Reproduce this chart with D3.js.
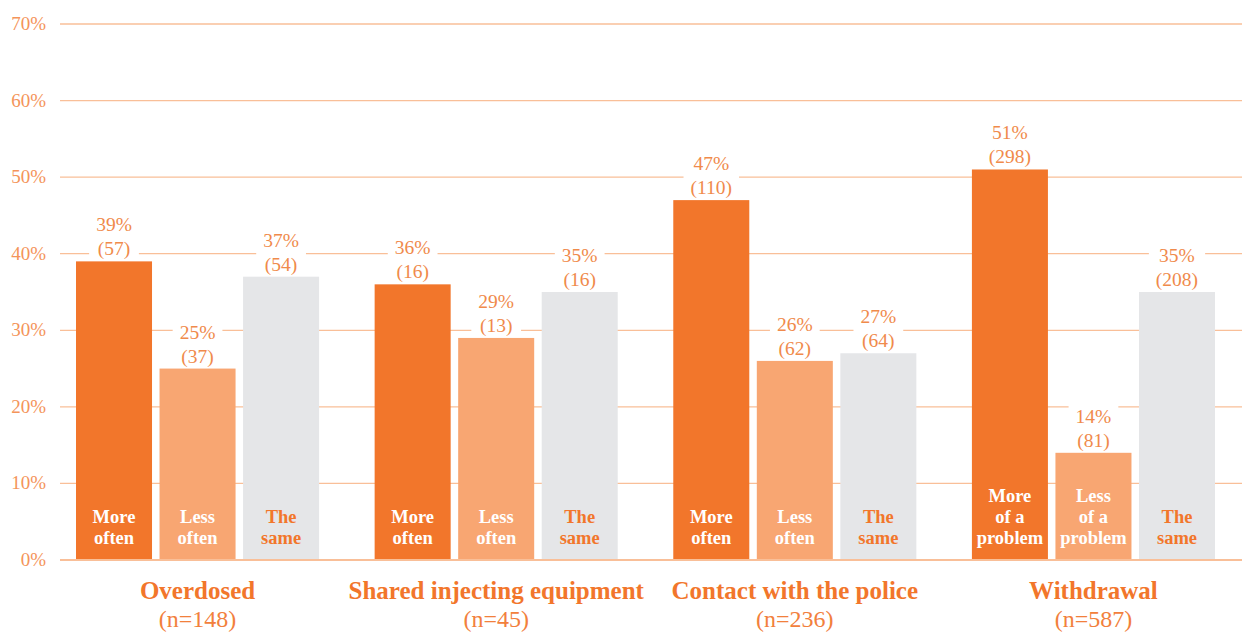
<!DOCTYPE html>
<html>
<head>
<meta charset="utf-8">
<script src="https://cdn.jsdelivr.net/npm/d3@7"></script>
<style>
  html, body { margin: 0; padding: 0; background: #fff; }
  svg { display: block; }
  text { font-family: "Liberation Serif", "DejaVu Serif", serif; }
</style>
</head>
<body>
<div id="chart"></div>
<script>
// data
const groups = ['Overdosed', 'Shared injecting equipment', 'Contact with the police', 'Withdrawal'];
const groupN = ['(n=148)', '(n=45)', '(n=236)', '(n=587)'];
const series = ['more', 'less', 'same'];
const morePct = [39, 36, 47, 51];
const lessPct = [25, 29, 26, 14];
const samePct = [37, 35, 27, 35];
const moreCount = [57, 16, 110, 298];
const lessCount = [37, 13, 62, 81];
const sameCount = [54, 16, 64, 208];
const barLabels = [
  [['More', 'often'], ['Less', 'often'], ['The', 'same']],
  [['More', 'often'], ['Less', 'often'], ['The', 'same']],
  [['More', 'often'], ['Less', 'often'], ['The', 'same']],
  [['More', 'of a', 'problem'], ['Less', 'of a', 'problem'], ['The', 'same']]
];
const yTicks = [0, 10, 20, 30, 40, 50, 60, 70];

const W = 1242, H = 632;
const colors = { more: '#f2762b', less: '#f8a672', same: '#e5e6e8' };
const inkColors = { more: '#ffffff', less: '#ffffff', same: '#f2762b' };

const pct = { more: morePct, less: lessPct, same: samePct };
const cnt = { more: moreCount, less: lessCount, same: sameCount };

const rows = [];
groups.forEach((g, gi) => {
  series.forEach((s, si) => {
    rows.push({ group: g, gi: gi, key: s, si: si, value: pct[s][gi], count: cnt[s][gi], lines: barLabels[gi][si] });
  });
});

const svg = d3.select('#chart').append('svg')
  .attr('width', W)
  .attr('height', H);

const y = d3.scaleLinear().domain([0, 70]).range([560, 24]);

const x0 = d3.scaleBand().domain(groups).range([76, 1215]).paddingInner(0.186).paddingOuter(0);
const x1 = d3.scaleBand().domain(series).range([0, x0.bandwidth()]).paddingInner(0.09).paddingOuter(0);

// gridlines
svg.append('g')
  .selectAll('line')
  .data(yTicks)
  .join('line')
  .attr('x1', 60)
  .attr('x2', W)
  .attr('y1', d => y(d))
  .attr('y2', d => y(d))
  .style('stroke', '#f9bf98')
  .style('stroke-width', d => d === 0 ? 2 : 1.3);

// y tick labels
svg.append('g')
  .selectAll('text')
  .data(yTicks)
  .join('text')
  .attr('x', 46)
  .attr('y', d => y(d) + 6)
  .attr('text-anchor', 'end')
  .style('font-size', '19px')
  .style('fill', '#f4945a')
  .text(d => d + '%');

// value labels with white backing
const lab = svg.append('g')
  .selectAll('g')
  .data(rows)
  .join('g')
  .attr('transform', d => `translate(${x0(d.group) + x1(d.key) + x1.bandwidth() / 2}, ${y(d.value)})`);

lab.append('rect').attr('class', 'bg');
lab.append('text')
  .attr('text-anchor', 'middle')
  .style('font-size', '19.5px')
  .style('fill', '#f08a4b')
  .call(t => {
    t.append('tspan').attr('x', 0).attr('y', -30).text(d => d.value + '%');
    t.append('tspan').attr('x', 0).attr('y', -6).text(d => '(' + d.count + ')');
  });
lab.each(function() {
  const g = d3.select(this);
  const bb = g.select('text').node().getBBox();
  g.select('rect.bg')
    .attr('x', bb.x - 7)
    .attr('y', bb.y)
    .attr('width', bb.width + 14)
    .attr('height', bb.height)
    .style('fill', '#fff');
});

// bars
svg.append('g')
  .selectAll('rect')
  .data(rows)
  .join('rect')
  .attr('x', d => x0(d.group) + x1(d.key))
  .attr('y', d => y(d.value))
  .attr('width', x1.bandwidth())
  .attr('height', d => y(0) - y(d.value) - 1)
  .style('fill', d => colors[d.key]);

// labels inside bars
svg.append('g')
  .selectAll('text')
  .data(rows)
  .join('text')
  .attr('text-anchor', 'middle')
  .style('font-size', '18.5px')
  .style('font-weight', 'bold')
  .style('fill', d => inkColors[d.key])
  .each(function(d) {
    const cx = x0(d.group) + x1(d.key) + x1.bandwidth() / 2;
    const n = d.lines.length;
    d3.select(this).selectAll('tspan')
      .data(d.lines)
      .join('tspan')
      .attr('x', cx)
      .attr('y', (l, i) => 544 - (n - 1 - i) * 21)
      .text(l => l);
  });

// category labels
const cat = svg.append('g')
  .selectAll('g')
  .data(groups)
  .join('g')
  .attr('transform', d => `translate(${x0(d) + x0.bandwidth() / 2}, 0)`);

cat.append('text')
  .attr('y', 599)
  .attr('text-anchor', 'middle')
  .style('font-size', '25px')
  .style('font-weight', 'bold')
  .style('fill', '#f2762b')
  .text(d => d);

cat.append('text')
  .attr('y', 627)
  .attr('text-anchor', 'middle')
  .style('font-size', '24px')
  .style('fill', '#f2803c')
  .text((d, i) => groupN[i]);
</script>
</body>
</html>
